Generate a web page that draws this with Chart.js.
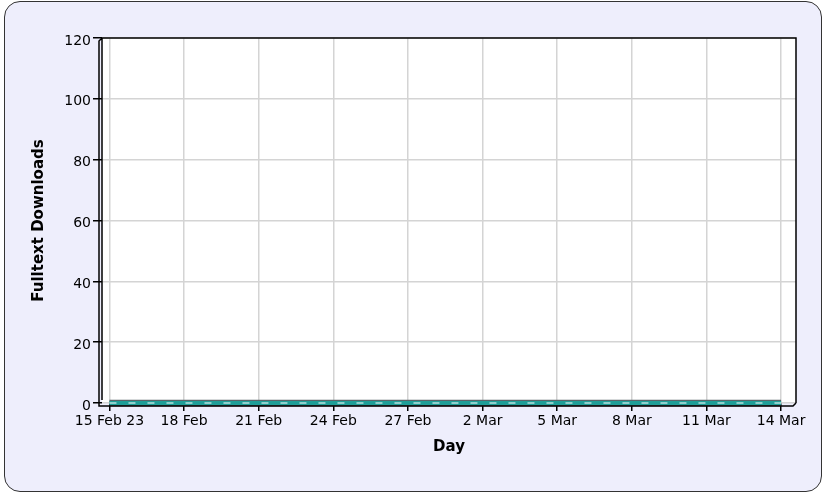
<!DOCTYPE html>
<html>
<head>
<meta charset="utf-8">
<script src="https://cdn.jsdelivr.net/npm/chart.js@4.4.0/dist/chart.umd.min.js"></script>
<style>
  html, body { margin: 0; padding: 0; background: #fff; }
  #wrap { position: relative; width: 827px; height: 494px; }
  #box {
    position: absolute; left: 4px; top: 1px; width: 816px; height: 489px;
    border: 1.5px solid #333; border-radius: 16px; background: #eeeefc;
  }
  canvas { position: absolute; left: 0; top: 0; }
</style>
</head>
<body>
<div id="wrap">
  <div id="box"></div>
  <canvas id="chart" width="827" height="494"></canvas>
</div>
<script>
// days 15 Feb 2023 .. 14 Mar 2023
const days = [
  '15 Feb', '16 Feb', '17 Feb', '18 Feb', '19 Feb', '20 Feb', '21 Feb',
  '22 Feb', '23 Feb', '24 Feb', '25 Feb', '26 Feb', '27 Feb', '28 Feb',
  '1 Mar', '2 Mar', '3 Mar', '4 Mar', '5 Mar', '6 Mar', '7 Mar',
  '8 Mar', '9 Mar', '10 Mar', '11 Mar', '12 Mar', '13 Mar', '14 Mar'
];
const downloads = [
  0, 0, 0, 0, 0, 0, 0, 0, 0, 0, 0, 0, 0, 0,
  0, 0, 0, 0, 0, 0, 0, 0, 0, 0, 0, 0, 0, 0
];
const xTickLabels = ['15 Feb 23', '18 Feb', '21 Feb', '24 Feb', '27 Feb', '2 Mar', '5 Mar', '8 Mar', '11 Mar', '14 Mar'];
const yTicks = [0, 20, 40, 60, 80, 100, 120];

const FONT = { family: '"DejaVu Sans", sans-serif', size: 14 };
const TITLE_FONT = { family: '"DejaVu Sans", sans-serif', size: 15, weight: 'bold' };
const DEPTH = 3;

// white plot background + 3D-ish frame (back plane, front left axis and floor)
const framePlugin = {
  id: 'frame',
  beforeDraw(chart) {
    const { ctx, chartArea: a } = chart;
    ctx.save();
    ctx.fillStyle = '#fff';
    ctx.fillRect(a.left, a.top, a.right - a.left, a.bottom - a.top);
    ctx.restore();
  },
  afterDatasetsDraw(chart) {
    const { ctx, chartArea: a } = chart;
    ctx.save();
    ctx.strokeStyle = '#000';
    ctx.lineWidth = 1.5;
    ctx.beginPath();
    // back plane
    ctx.moveTo(a.left, a.bottom - 3);
    ctx.lineTo(a.left, a.top);
    ctx.lineTo(a.right, a.top);
    ctx.lineTo(a.right, a.bottom);
    // depth edges
    ctx.moveTo(a.left, a.top);
    ctx.lineTo(a.left - DEPTH, a.top + DEPTH);
    ctx.lineTo(a.left - DEPTH, a.bottom + DEPTH);
    ctx.lineTo(a.right - DEPTH, a.bottom + DEPTH);
    ctx.lineTo(a.right, a.bottom);
    ctx.stroke();
    ctx.restore();
  }
};

const points = downloads.map((v, i) => ({ x: i, y: v }));

// dataset 0 is drawn on top, so highlight first, then teal ribbon, then dark edge
new Chart(document.getElementById('chart'), {
  type: 'line',
  data: {
    datasets: [
      {
        data: points,
        borderColor: '#ffffff',
        borderWidth: 1.2,
        borderDash: [7, 12],
        pointRadius: 0,
        tension: 0,
        clip: 10
      },
      {
        data: points,
        borderColor: '#1f9e98',
        borderWidth: 4,
        pointRadius: 0,
        tension: 0,
        clip: 10
      },
      {
        data: points,
        borderColor: '#5a6468',
        borderWidth: 6.5,
        pointRadius: 0,
        tension: 0,
        clip: 10
      }
    ]
  },
  options: {
    responsive: false,
    animation: false,
    layout: { padding: { left: 26, top: 38, right: 31, bottom: 34 } },
    plugins: { legend: { display: false }, tooltip: { enabled: false } },
    scales: {
      x: {
        type: 'linear',
        min: -0.3,
        max: 27.6,
        afterBuildTicks: (s) => { s.ticks = xTickLabels.map((_, i) => ({ value: i * 3 })); },
        afterFit: (s) => { s.height = 57; },
        grid: { color: '#d4d4d4', tickColor: '#000', tickLength: 8, lineWidth: 1.5 },
        border: { display: false },
        ticks: {
          color: '#000', font: FONT, maxRotation: 0, autoSkip: false, padding: 2,
          callback: (v) => xTickLabels[Math.round(v / 3)]
        },
        title: { display: true, text: 'Day', color: '#000', font: TITLE_FONT, padding: { top: 4, bottom: 4 } }
      },
      y: {
        min: 0,
        max: 120,
        afterBuildTicks: (s) => { s.ticks = yTicks.map(v => ({ value: v })); },
        afterFit: (s) => { s.width = 76; },
        grid: { color: '#d4d4d4', tickColor: '#000', tickLength: 9, lineWidth: 1.5 },
        border: { display: false },
        ticks: { color: '#000', font: FONT, padding: 2, labelOffset: 3 },
        title: { display: true, text: 'Fulltext Downloads', color: '#000', font: TITLE_FONT }
      }
    }
  },
  plugins: [framePlugin]
});
</script>
</body>
</html>
